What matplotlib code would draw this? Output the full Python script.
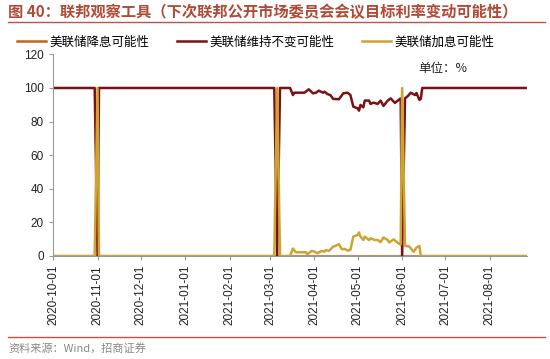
import matplotlib.pyplot as plt
import matplotlib.dates as mdates
from matplotlib.lines import Line2D
import pandas as pd

plt.rcParams['font.family'] = ['Noto Sans CJK SC', 'DejaVu Sans']

# 美联储降息可能性
cut_dates = ['2020-10-01', '2021-08-26']
cut_vals = [0, 0]

# 美联储维持不变可能性
hold_dates = ['2020-10-01', '2020-10-30', '2020-11-01', '2020-11-02',
              '2021-03-04', '2021-03-06', '2021-03-08', '2021-03-15',
              '2021-03-17', '2021-03-18', '2021-03-25', '2021-03-28',
              '2021-03-31', '2021-04-02', '2021-04-04', '2021-04-07',
              '2021-04-08', '2021-04-10', '2021-04-12', '2021-04-14',
              '2021-04-18', '2021-04-21', '2021-04-24', '2021-04-26',
              '2021-04-28', '2021-05-01', '2021-05-02', '2021-05-03',
              '2021-05-05', '2021-05-06', '2021-05-09', '2021-05-10',
              '2021-05-12', '2021-05-15', '2021-05-17', '2021-05-19',
              '2021-05-22', '2021-05-24', '2021-05-27', '2021-05-29',
              '2021-05-31', '2021-06-01', '2021-06-03', '2021-06-05',
              '2021-06-07', '2021-06-10', '2021-06-11', '2021-06-13',
              '2021-06-14', '2021-06-15', '2021-08-26']
hold_vals = [100, 100, 0, 100,
             100, 0, 100, 100,
             95.8, 97.2, 97.2, 99.2,
             96.8, 97.2, 98.4, 97.2,
             97.8, 96.4, 95.8, 93.5,
             93.3, 96.8, 97.2, 95.8,
             88.9, 87.9, 86.5, 89.9,
             88.5, 92.5, 92.5, 90.5,
             91.3, 90.5, 92.5, 89.3,
             92.5, 93.8, 91.1, 92.5,
             93.8, 0, 93.8, 95.2,
             97.2, 95.8, 97.0, 92.9,
             93.5, 100, 100]

# 美联储加息可能性
hike_dates = ['2020-10-01', '2020-10-30', '2020-11-01', '2020-11-02',
              '2021-03-04', '2021-03-06', '2021-03-08', '2021-03-15',
              '2021-03-17', '2021-03-19', '2021-03-26', '2021-03-27',
              '2021-03-30', '2021-04-01', '2021-04-03', '2021-04-06',
              '2021-04-08', '2021-04-09', '2021-04-11', '2021-04-14',
              '2021-04-16', '2021-04-18', '2021-04-20', '2021-04-22',
              '2021-04-24', '2021-04-26', '2021-04-28', '2021-05-01',
              '2021-05-02', '2021-05-03', '2021-05-05', '2021-05-06',
              '2021-05-09', '2021-05-10', '2021-05-13', '2021-05-15',
              '2021-05-17', '2021-05-19', '2021-05-22', '2021-05-23',
              '2021-05-26', '2021-05-28', '2021-05-30', '2021-05-31',
              '2021-06-01', '2021-06-03', '2021-06-06', '2021-06-07',
              '2021-06-09', '2021-06-11', '2021-06-13', '2021-06-14',
              '2021-08-26']
hike_vals = [0, 0, 100, 0,
             0, 100, 0, 0,
             4.4, 2.2, 2.2, 1.0,
             3.0, 2.6, 1.6, 3.0,
             2.6, 3.6, 3.0, 5.5,
             6.2, 7.0, 4.0, 4.2,
             3.2, 3.6, 11.5, 12.5,
             14.0, 11.5, 9.5, 11.5,
             9.5, 10.5, 9.5, 9.5,
             8.2, 11.0, 9.5, 8.0,
             9.9, 8.5, 7.1, 7.0,
             100, 6.1, 5.6, 4.6,
             2.5, 5.0, 6.0, 0,
             0]

labels = ['美联储降息可能性', '美联储维持不变可能性', '美联储加息可能性']
colors = ['#C0631C', '#7B1113', '#CDA434']
ticks = pd.date_range('2020-10-01', '2021-08-01', freq='MS')

fig = plt.figure(figsize=(5.5, 3.59), dpi=100)
ax = fig.add_axes([0.0964, 0.287, 0.862, 0.5615])

ax.plot(pd.to_datetime(cut_dates), cut_vals, color=colors[0], lw=1.8, label=labels[0])
ax.plot(pd.to_datetime(hold_dates), hold_vals, color=colors[1], lw=1.8, label=labels[1])
ax.plot(pd.to_datetime(hike_dates), hike_vals, color=colors[2], lw=1.8, label=labels[2])

ax.set_ylim(0, 120)
ax.set_yticks(range(0, 121, 20))
ax.set_xlim(pd.Timestamp('2020-10-01'), pd.Timestamp('2021-08-27'))
ax.set_xticks(ticks)
ax.xaxis.set_major_formatter(mdates.DateFormatter('%Y-%m-%d'))
for lab in ax.get_xticklabels():
    lab.set_rotation(90)
    lab.set_family(['Liberation Sans', 'DejaVu Sans'])
for lab in ax.get_yticklabels():
    lab.set_family(['Liberation Sans', 'DejaVu Sans'])
ax.tick_params(axis='both', labelsize=8.5, colors='#222222', length=3, width=0.8)
ax.tick_params(axis='both', color='#999999')
for s in ['top', 'right']:
    ax.spines[s].set_visible(False)
for s in ['left', 'bottom']:
    ax.spines[s].set_color('#999999')
    ax.spines[s].set_linewidth(0.8)

fig.legend(loc='center', bbox_to_anchor=(0.465, 0.883), ncol=3, frameon=False,
           fontsize=9, handlelength=2.3, columnspacing=2.2, handletextpad=0.3)
fig.text(0.76, 0.80, '单位：%', fontsize=9, color='#222222')

# title and rules
fig.text(0.015, 0.966, '图 40：联邦观察工具（下次联邦公开市场委员会会议目标利率变动可能性）',
         fontsize=11, color='#B04A36', fontweight='bold', va='center')
fig.add_artist(Line2D([0.015, 0.99], [0.938, 0.938], color='#C0504D', lw=1.0))
fig.add_artist(Line2D([0.015, 0.99], [0.062, 0.062], color='#C0504D', lw=1.0))
fig.text(0.015, 0.03, '资料来源：Wind，招商证券', fontsize=8, color='#888888', va='center')

fig.savefig('out.png', dpi=100)
